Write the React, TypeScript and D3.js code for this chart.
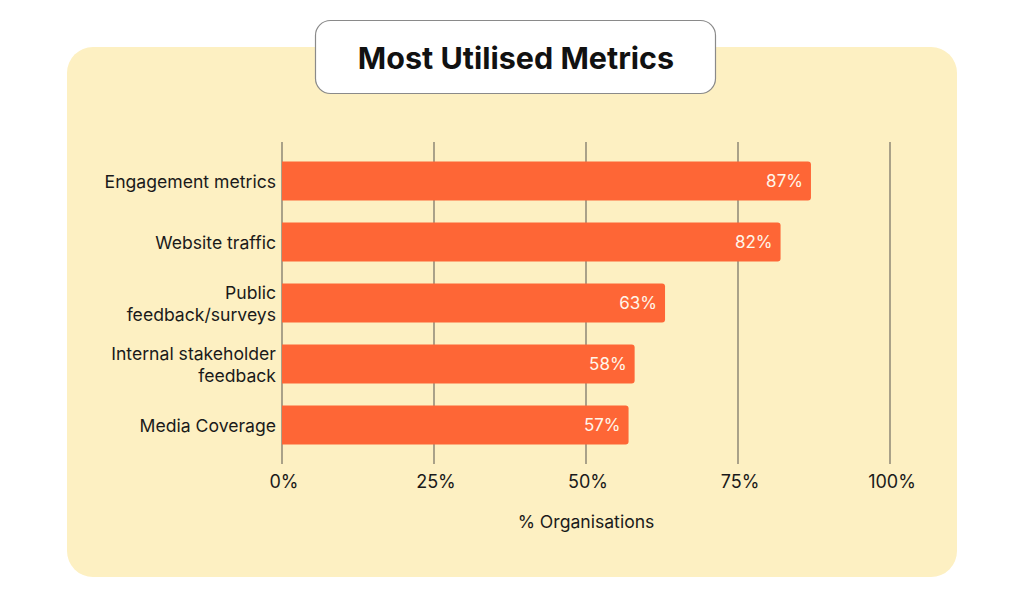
import React from "react";
import * as d3 from "d3";

const categories = [
  ["Engagement metrics"],
  ["Website traffic"],
  ["Public", "feedback/surveys"],
  ["Internal stakeholder", "feedback"],
  ["Media Coverage"],
];
const values = [87, 82, 63, 58, 57];
const ticks = [0, 25, 50, 75, 100];
const title = "Most Utilised Metrics";
const axisTitle = "% Organisations";

const W = 1024;
const H = 595;
const FONT = "Inter, 'Open Sans', sans-serif";

export default function App() {
  const x = d3.scaleLinear().domain([0, 100]).range([282, 890]);
  const y = d3
    .scaleBand<number>()
    .domain(values.map((_, i) => i))
    .range([150.5, 455.5])
    .paddingInner(0.36)
    .paddingOuter(0.18);
  const bh = y.bandwidth();
  const r = 3;
  const barPath = (v: number, i: number) => {
    const x0 = x(0);
    const x1 = x(v);
    const y0 = y(i)!;
    const y1 = y0 + bh;
    return `M${x0},${y0}H${x1 - r}Q${x1},${y0} ${x1},${y0 + r}V${y1 - r}Q${x1},${y1} ${x1 - r},${y1}H${x0}Z`;
  };
  return (
    <svg
      width={W}
      height={H}
      style={{ position: "absolute", left: 0, top: 0, background: "#ffffff" }}
      fontFamily={FONT}
    >
      <rect x={67} y={47} width={890} height={530} rx={26} fill="#fdf0c2" />
      <rect x={315.5} y={20.5} width={400} height={73} rx={15} fill="#ffffff" stroke="#8a8a8a" strokeWidth={1.2} />
      <text x={516} y={57} textAnchor="middle" dominantBaseline="central" fontSize={30.5} fontWeight={700} fill="#111">
        {title}
      </text>
      {ticks.map((t) => (
        <g key={t}>
          <line x1={x(t)} x2={x(t)} y1={142} y2={464} stroke="#7d776a" strokeWidth={1.3} />
          <text x={x(t) + 2} y={481} textAnchor="middle" dominantBaseline="central" fontSize={18} fill="#1a1a1a">
            {t}%
          </text>
        </g>
      ))}
      {values.map((v, i) => (
        <g key={i}>
          <path d={barPath(v, i)} fill="#fe6636" />
          <text
            x={x(v) - 8}
            y={y(i)! + bh / 2}
            textAnchor="end"
            dominantBaseline="central"
            fontSize={17}
            fill="#fff6ea"
          >
            {v}%
          </text>
          <text
            x={276}
            y={y(i)! + bh / 2}
            textAnchor="end"
            dominantBaseline="central"
            fontSize={17.6}
            fill="#1a1a1a"
          >
            {categories[i].map((line, k) => (
              <tspan key={k} x={276} dy={k === 0 ? -((categories[i].length - 1) * 22) / 2 : 22}>
                {line}
              </tspan>
            ))}
          </text>
        </g>
      ))}
      <text x={x(50)} y={521} textAnchor="middle" dominantBaseline="central" fontSize={17.6} fill="#1a1a1a">
        {axisTitle}
      </text>
    </svg>
  );
}
